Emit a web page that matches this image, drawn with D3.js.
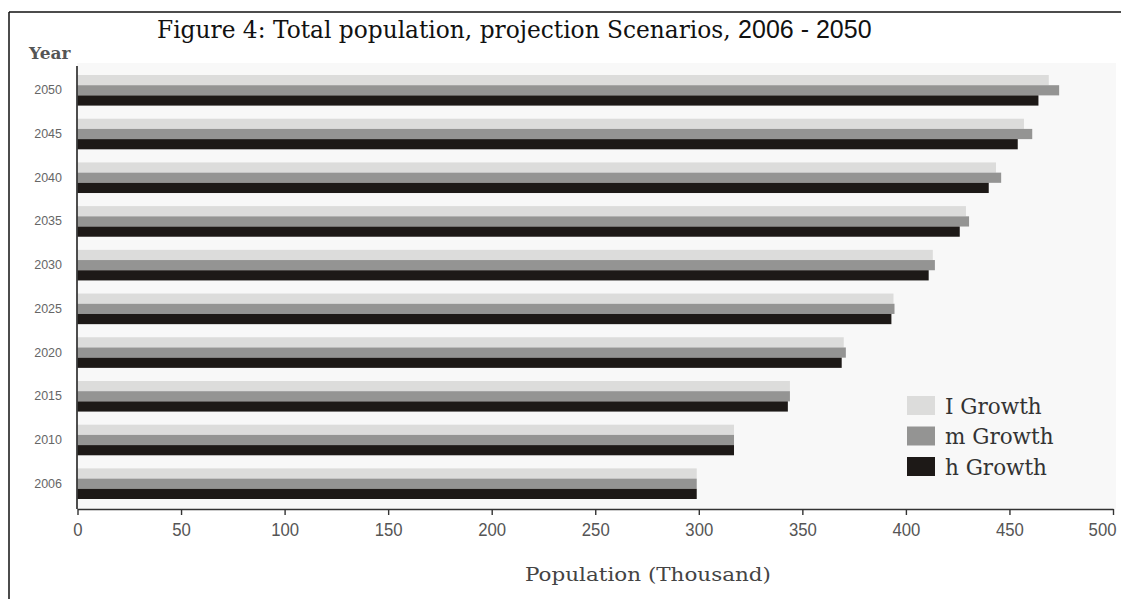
<!DOCTYPE html>
<html>
<head>
<meta charset="utf-8">
<script src="https://cdn.jsdelivr.net/npm/d3@7"></script>
<style>
  html, body { margin: 0; padding: 0; background: #fff; }
  svg { display: block; }
</style>
</head>
<body>
<svg id="chart" width="1121" height="599"></svg>
<script>
// Projection years (bottom to top in the chart) and population in thousands
const years = [2006, 2010, 2015, 2020, 2025, 2030, 2035, 2040, 2045, 2050];
const lowGrowth    = [299, 317, 344, 370, 394, 413, 429, 443.5, 457, 469];
const mediumGrowth = [299, 317, 344, 371, 394.5, 414, 430.5, 446, 461, 474];
const highGrowth   = [299, 317, 343, 369, 393, 411, 426, 440, 454, 464];
const seriesNames  = ["I Growth", "m Growth", "h Growth"];
const seriesColors = ["#dcdcdb", "#949493", "#1d1917"];
const xTicks = [0, 50, 100, 150, 200, 250, 300, 350, 400, 450, 500];

const series = [lowGrowth, mediumGrowth, highGrowth];
const rows = years.map((y, i) => ({ year: y, values: series.map(s => s[i]) }));

const svg = d3.select("#chart");

// Frame lines (top and left)
svg.append("line").attr("x1", 9).attr("y1", 12).attr("x2", 1121).attr("y2", 12)
  .attr("stroke", "#111").attr("stroke-width", 1.5);
svg.append("line").attr("x1", 9).attr("y1", 12).attr("x2", 9).attr("y2", 599)
  .attr("stroke", "#111").attr("stroke-width", 1.5);

// Title: serif part followed by a sans-serif date range
const title = svg.append("text").attr("x", 157).attr("y", 38).attr("fill", "#111");
title.append("tspan").attr("font-family", "'DejaVu Serif', serif").attr("font-size", 23.3)
  .text("Figure 4: Total population, projection Scenarios, ");
title.append("tspan").attr("font-family", "'Liberation Sans', Arial, sans-serif").attr("font-size", 25)
  .text("2006 - 2050");

const x = d3.scaleLinear().domain([0, 500]).range([77.5, 1113]);
const y = d3.scaleBand().domain(years.slice().reverse()).range([75, 499]).paddingInner(0.3).paddingOuter(0);
const ySub = d3.scaleBand().domain(d3.range(series.length)).range([0, y.bandwidth()]);

// Plot background
svg.append("rect").attr("x", 77).attr("y", 63).attr("width", 1116 - 77).attr("height", 509 - 63)
  .attr("fill", "#f8f8f8");

// Bars
const groups = svg.append("g").selectAll("g").data(rows).join("g")
  .attr("transform", d => `translate(0,${y(d.year)})`);
groups.selectAll("rect").data(d => d.values.map((v, k) => ({ v, k }))).join("rect")
  .attr("x", x(0))
  .attr("y", d => ySub(d.k))
  .attr("width", d => x(d.v) - x(0))
  .attr("height", ySub.bandwidth())
  .attr("fill", d => seriesColors[d.k]);

// X axis
const xAxis = svg.append("g").attr("transform", "translate(0,509)")
  .call(d3.axisBottom(x).tickValues(xTicks).tickSize(6).tickPadding(8).tickSizeOuter(0));
xAxis.select(".domain").attr("stroke", "#333").attr("stroke-width", 1.6);
xAxis.selectAll(".tick line").attr("stroke", "#333").attr("stroke-width", 1.4);
xAxis.selectAll(".tick text")
  .attr("font-family", "'Liberation Sans', sans-serif")
  .attr("font-size", 19).attr("fill", "#555")
  .attr("textLength", d => String(d).length * 9.3)
  .attr("lengthAdjust", "spacingAndGlyphs");
// keep the last label inside the page edge
xAxis.selectAll(".tick text").filter(d => d === 500)
  .attr("text-anchor", "end").attr("x", 3);

// Y axis line
svg.append("line").attr("x1", 77).attr("x2", 77).attr("y1", 66).attr("y2", 509)
  .attr("stroke", "#222").attr("stroke-width", 1.6);

// Year labels
const yAxis = svg.append("g").attr("transform", "translate(62,0)")
  .call(d3.axisLeft(y).tickSize(0).tickPadding(0));
yAxis.select(".domain").remove();
yAxis.selectAll(".tick text")
  .attr("font-family", "'Liberation Sans', sans-serif")
  .attr("font-size", 12.5).attr("fill", "#666");

// Axis titles
svg.append("text").attr("x", 29).attr("y", 59).text("Year")
  .attr("font-family", "'DejaVu Serif', serif").attr("font-weight", "bold")
  .attr("font-size", 17).attr("fill", "#555");
svg.append("text").attr("x", 648).attr("y", 581).attr("text-anchor", "middle")
  .text("Population (Thousand)")
  .attr("font-family", "'DejaVu Serif', serif").attr("font-size", 19).attr("fill", "#444")
  .attr("textLength", 246).attr("lengthAdjust", "spacingAndGlyphs");

// Legend
const legend = svg.append("g").attr("transform", "translate(907,396)");
const items = legend.selectAll("g").data(seriesNames).join("g")
  .attr("transform", (d, i) => `translate(0,${i * 30.5})`);
items.append("rect").attr("width", 28).attr("height", 19)
  .attr("fill", (d, i) => seriesColors[i]);
items.append("text").attr("x", 38).attr("y", 17.5).text(d => d)
  .attr("font-family", "'DejaVu Serif', serif").attr("font-size", 21.5).attr("fill", "#333");
</script>
</body>
</html>
